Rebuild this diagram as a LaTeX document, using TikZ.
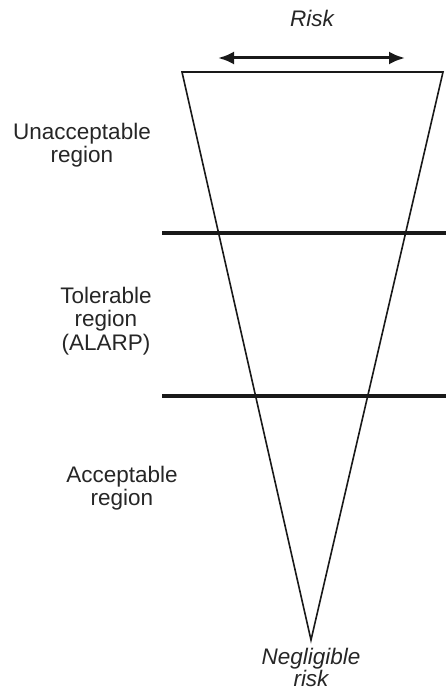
\documentclass[tikz,border=0pt]{standalone}
\usepackage{fontspec}
\setmainfont{Liberation Sans}
\usetikzlibrary{arrows.meta}
\begin{document}
\begin{tikzpicture}[x=1pt,y=-1pt,
  lbl/.style={align=center,font=\fontsize{22.5}{23.5}\selectfont,text=black!85},
  ilbl/.style={align=center,font=\fontsize{22.5}{19.5}\selectfont\itshape,text=black!85},
  edge/.style={line width=1.6pt,black!90},
  band/.style={line width=3.6pt,black!90}]
\useasboundingbox (0,0) rectangle (446,693);
\coordinate (tl) at (182,72);
\coordinate (tr) at (443,72);
\coordinate (ap) at (311,640);
\draw[edge,line join=miter] (tl) -- (tr) -- (ap) -- cycle;
\coordinate (a1) at (162,233);
\coordinate (b1) at (446,233);
\coordinate (a2) at (162,396);
\coordinate (b2) at (446,396);
\draw[band] (a1) -- (b1);
\draw[band] (a2) -- (b2);
\coordinate (al) at (218,58);
\coordinate (ar) at (405,58);
\draw[line width=3pt,black!90,{Latex[length=16pt,width=13pt]}-{Latex[length=16pt,width=13pt]}] (al) -- (ar);
\node[ilbl] (risk) at (312,18) {Risk};
\node[lbl] (unacc) at (82,145) {Unacceptable\\region};
\node[lbl] (tol) at (106,321) {Tolerable\\region\\(ALARP)};
\node[lbl] (acc) at (122,488) {Acceptable\\region};
\node[ilbl] (negl) at (311,667) {Negligible\\risk};
\end{tikzpicture}
\end{document}
